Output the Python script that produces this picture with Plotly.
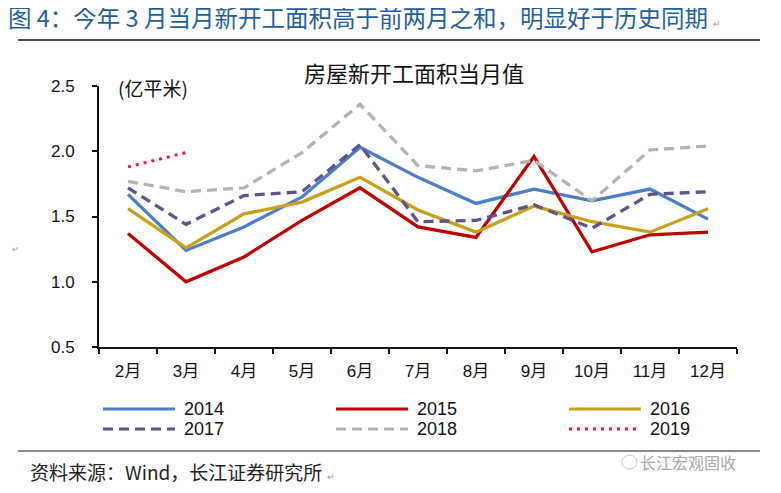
import plotly.graph_objects as go

months = ["2月", "3月", "4月", "5月", "6月", "7月", "8月", "9月", "10月", "11月", "12月"]
s2014 = [1.67, 1.24, 1.42, 1.65, 2.03, 1.80, 1.60, 1.71, 1.62, 1.71, 1.48]
s2015 = [1.37, 1.00, 1.19, 1.47, 1.72, 1.42, 1.34, 1.96, 1.23, 1.36, 1.38]
s2016 = [1.56, 1.26, 1.52, 1.61, 1.80, 1.55, 1.38, 1.58, 1.46, 1.38, 1.56]
s2017 = [1.72, 1.44, 1.66, 1.69, 2.05, 1.46, 1.47, 1.59, 1.41, 1.67, 1.69]
s2018 = [1.77, 1.69, 1.72, 1.99, 2.36, 1.89, 1.85, 1.93, 1.62, 2.01, 2.04]
s2019 = [1.88, 1.99]
years = ["2014", "2015", "2016", "2017", "2018", "2019"]

series = [s2014, s2015, s2016, s2017, s2018, s2019]
colors = ["#4A7EC6", "#C00000", "#C9A01C", "#5E5488", "#B3B3B3", "#E8202A"]
dashes = ["solid", "solid", "solid", "10px,6px", "10px,6px", "3px,5px"]
widths = [3.3, 3.3, 3.3, 3.3, 3.3, 3]

FONT = "Liberation Sans, Arial, Noto Sans CJK SC"
CJK = "Noto Sans CJK SC, Liberation Sans"

# screen geometry (page has an 8px body margin)
OFF = 8
W, H = 781 - OFF, 493 - OFF
PL, PT, PW, PH = 99, 86, 638, 261  # plot area on screen


def px(X):
    return (X - PL) / PW


def py(Y):
    return 1 - (Y - PT) / PH


fig = go.Figure()
for name, vals, c, d, w in zip(years, series, colors, dashes, widths):
    fig.add_trace(go.Scatter(
        x=months[:len(vals)], y=vals, mode="lines", name=name,
        line=dict(color=c, width=w, dash=d), showlegend=False,
    ))

shapes = []
annotations = []
col_px = [103, 336, 569]
row_px = [409, 429]
for i, (name, c, d, w) in enumerate(zip(years, colors, dashes, widths)):
    col = i % 3
    row = i // 3
    y = py(row_px[row])
    shapes.append(dict(type="line", xref="paper", yref="paper",
                       x0=px(col_px[col]), x1=px(col_px[col] + 72), y0=y, y1=y,
                       line=dict(color=c, width=3, dash=d)))
    annotations.append(dict(x=px(col_px[col] + 79), y=y, xref="paper", yref="paper",
                            text=name, showarrow=False, xanchor="left", yanchor="middle",
                            font=dict(family=FONT, size=18, color="#111")))

shapes.append(dict(type="line", xref="paper", yref="paper",
                   x0=px(18), x1=px(760), y0=py(40), y1=py(40),
                   line=dict(color="#111", width=1.5)))
shapes.append(dict(type="line", xref="paper", yref="paper",
                   x0=px(18), x1=px(760), y0=py(451), y1=py(451),
                   line=dict(color="#8a8a8a", width=2)))
shapes.append(dict(type="circle", xref="paper", yref="paper",
                   x0=px(622), x1=px(637), y0=py(469), y1=py(455),
                   line=dict(color="#C8C8C8", width=1)))

annotations += [
    dict(x=px(414), y=py(72), xref="paper", yref="paper", xanchor="center", yanchor="middle",
         text="房屋新开工面积当月值", showarrow=False,
         font=dict(family=CJK, size=22, color="#111")),
    dict(x=px(116), y=py(88), xref="paper", yref="paper", xanchor="left", yanchor="middle",
         text="(亿平米)", showarrow=False,
         font=dict(family=CJK, size=19, color="#111")),
    dict(x=px(10), y=py(248), xref="paper", yref="paper", xanchor="left", yanchor="middle",
         text="↵", showarrow=False, font=dict(family=CJK, size=8, color="#999")),
    dict(x=px(28), y=py(471), xref="paper", yref="paper", xanchor="left", yanchor="middle",
         text="资料来源：Wind，长江证券研究所 <span style='font-size:9px;color:#999'>↵</span>",
         showarrow=False, font=dict(family=CJK, size=19, color="#222")),
    dict(x=px(738), y=py(462), xref="paper", yref="paper", xanchor="right", yanchor="middle",
         text="长江宏观固收", showarrow=False,
         font=dict(family=CJK, size=16, color="#A8A8A8")),
]

fig.update_layout(
    width=W, height=H,
    margin=dict(l=PL - OFF, r=W - (PL - OFF) - PW, t=PT - OFF, b=H - (PT - OFF) - PH),
    paper_bgcolor="white", plot_bgcolor="white",
    shapes=shapes, annotations=annotations,
    title=dict(
        text="图 4：今年 3 月当月新开工面积高于前两月之和，明显好于历史同期 <span style='font-size:9px;color:#999'>↵</span>",
        xref="container", yref="container", x=0, xanchor="left",
        y=1 - (19 - OFF) / H, yanchor="middle",
        font=dict(family=CJK, size=23.5, color="#1F5F9E"),
    ),
    xaxis=dict(
        type="category", range=[-0.5, 10.5], tickson="boundaries", ticks="outside", ticklen=5,
        tickcolor="#111", tickwidth=1.5, showline=True, linecolor="#111", linewidth=2,
        showgrid=False, zeroline=False, ticklabelstandoff=8,
        tickfont=dict(family=FONT, size=17, color="#111"),
    ),
    yaxis=dict(
        range=[0.5, 2.5], dtick=0.5, tickformat=".1f", ticks="outside", ticklen=5,
        tickcolor="#111", tickwidth=1.5, showline=True, linecolor="#111", linewidth=2,
        showgrid=False, zeroline=False, ticklabelstandoff=14,
        tickfont=dict(family=FONT, size=17, color="#111"),
    ),
)

fig.write_html("out.html")
